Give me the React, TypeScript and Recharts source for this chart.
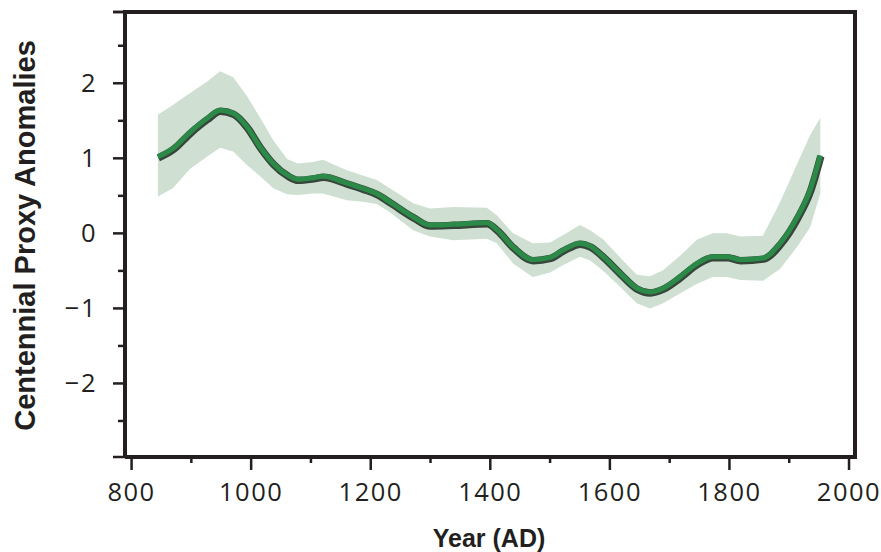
import React from 'react';
import { ComposedChart, Area, Line, XAxis, YAxis, ReferenceLine } from 'recharts';

// Reconstruction years (AD)
const years = [
  844, 869, 898, 926, 948, 970, 993, 1015, 1037, 1060, 1078, 1104, 1120, 1160, 1187,
  1210, 1232, 1271, 1299, 1338, 1394, 1411, 1438, 1471, 1500, 1522, 1550, 1567, 1589,
  1617, 1645, 1667, 1689, 1717, 1746, 1772, 1796, 1818, 1856, 1885, 1913, 1935, 1952,
];

// Mean centennial proxy anomaly
const anomaly = [
  1.02, 1.13, 1.35, 1.53, 1.64, 1.6, 1.42, 1.15, 0.93, 0.78, 0.72, 0.74, 0.76, 0.67, 0.6,
  0.53, 0.42, 0.22, 0.11, 0.12, 0.14, 0.05, -0.18, -0.35, -0.32, -0.22, -0.13, -0.17, -0.31,
  -0.53, -0.73, -0.78, -0.73, -0.58, -0.4, -0.31, -0.31, -0.35, -0.33, -0.13, 0.21, 0.58, 1.04,
];

// Uncertainty envelope
const lowerBound = [
  0.49, 0.6, 0.86, 1.02, 1.14, 1.09, 0.91, 0.76, 0.6, 0.52, 0.51, 0.53, 0.53, 0.44, 0.42,
  0.39, 0.28, 0.04, -0.04, -0.09, -0.07, -0.13, -0.4, -0.58, -0.52, -0.42, -0.31, -0.36, -0.5,
  -0.71, -0.93, -1.0, -0.93, -0.8, -0.67, -0.58, -0.58, -0.62, -0.63, -0.47, -0.18, 0.08, 0.53,
];
const upperBound = [
  1.58, 1.71, 1.87, 2.02, 2.16, 2.08, 1.83, 1.54, 1.24, 0.99, 0.93, 0.95, 0.98, 0.84, 0.77,
  0.71, 0.6, 0.4, 0.33, 0.35, 0.34, 0.24, 0.0, -0.13, -0.12, -0.02, 0.11, 0.04, -0.08,
  -0.32, -0.55, -0.57, -0.49, -0.3, -0.08, 0.0, 0.0, -0.04, -0.03, 0.42, 0.92, 1.31, 1.54,
];

const xMajorTicks = [800, 1000, 1200, 1400, 1600, 1800, 2000];
const xMinorTicks = [900, 1100, 1300, 1500, 1700, 1900];
const yMajorTicks = [-2, -1, 0, 1, 2];
const yMinorTicks = [-2.5, -1.5, -0.5, 0.5, 1.5, 2.5];

const xDomain: [number, number] = [789, 2010];
const yDomain: [number, number] = [-2.98, 2.95];

const data = years.map((year, i) => ({
  year,
  mean: anomaly[i],
  band: [lowerBound[i], upperBound[i]],
}));

const INK = '#231f20';
const TICK_FONT = '"Open Sans", "DejaVu Sans", sans-serif';
const TITLE_FONT = '"Liberation Sans", Arial, sans-serif';

const XTick = (props: any) => {
  const { x, y, payload } = props;
  const v = payload.value;
  const major = xMajorTicks.includes(v);
  return (
    <g>
      <line x1={x} x2={x} y1={y} y2={y + (major ? 13 : 6)} stroke={INK} strokeWidth={2.5} />
      {major && (
        <text
          x={x}
          y={y + 44}
          textAnchor="middle"
          fontFamily={TICK_FONT}
          fontSize={25.5}
          letterSpacing={1.5}
          fill={INK}
        >
          {v}
        </text>
      )}
    </g>
  );
};

const YTick = (props: any) => {
  const { x, y, payload } = props;
  const v = payload.value;
  const labelled = yMajorTicks.includes(v);
  const minor = yMinorTicks.includes(v);
  const len = minor ? 7 : 12;
  return (
    <g>
      <line x1={x - len} x2={x} y1={y} y2={y} stroke={INK} strokeWidth={2.5} />
      {labelled && (
        <text
          x={x - 28}
          y={y + 9}
          textAnchor="end"
          fontFamily={TICK_FONT}
          fontSize={25.5}
          letterSpacing={1.5}
          fill={INK}
        >
          {v < 0 ? `\u2212${Math.abs(v)}` : v}
        </text>
      )}
    </g>
  );
};

const yTicks = [yDomain[0], ...yMajorTicks, ...yMinorTicks, yDomain[1]].sort((a, b) => a - b);
const xTicks = [...xMajorTicks, ...xMinorTicks].sort((a, b) => a - b);

export default function App() {
  return (
    <div style={{ position: 'absolute', left: 0, top: 0, width: 881, height: 552, background: '#fff' }}>
      <ComposedChart
        width={881}
        height={552}
        data={data}
        margin={{ top: 12, right: 26, bottom: 0, left: 0 }}
      >
        <XAxis
          dataKey="year"
          type="number"
          domain={xDomain}
          ticks={xTicks}
          interval={0}
          height={95}
          tickSize={0}
          tickMargin={0}
          tickLine={false}
          axisLine={{ stroke: INK, strokeWidth: 4 }}
          tick={<XTick />}
          label={() => (
            <text
              x={489}
              y={547}
              textAnchor="middle"
              fontFamily={TITLE_FONT}
              fontWeight="bold"
              fontSize={25}
              fill={INK}
            >
              Year (AD)
            </text>
          )}
        />
        <YAxis
          type="number"
          domain={yDomain}
          ticks={yTicks}
          interval={0}
          width={125}
          tickSize={0}
          tickMargin={0}
          tickLine={false}
          axisLine={{ stroke: INK, strokeWidth: 4 }}
          tick={<YTick />}
          label={() => (
            <text
              x={35}
              y={235.5}
              transform="rotate(-90, 35, 235.5)"
              textAnchor="middle"
              fontFamily={TITLE_FONT}
              fontWeight="bold"
              fontSize={29}
              fill={INK}
            >
              Centennial Proxy Anomalies
            </text>
          )}
        />
        <Area
          dataKey="band"
          type="linear"
          stroke="none"
          fill="#cfdfd1"
          fillOpacity={1}
          isAnimationActive={false}
          activeDot={false}
        />
        <Line
          dataKey="mean"
          type="monotone"
          stroke="#1c2a20"
          strokeWidth={7.5}
          strokeOpacity={0.85}
          dot={false}
          activeDot={false}
          isAnimationActive={false}
          style={{ transform: 'translate(0.5px, 1px)' }}
        />
        <Line
          dataKey="mean"
          type="monotone"
          stroke="#2b8a48"
          strokeWidth={5}
          dot={false}
          activeDot={false}
          isAnimationActive={false}
        />
        <ReferenceLine y={yDomain[1]} stroke={INK} strokeWidth={4} strokeLinecap="square" />
        <ReferenceLine x={xDomain[1]} stroke={INK} strokeWidth={4} strokeLinecap="square" />
        <ReferenceLine
          y={yDomain[1]}
          stroke="none"
          label={() => (
            <line x1={113} x2={125} y1={12} y2={12} stroke={INK} strokeWidth={2.5} />
          )}
        />
      </ComposedChart>
    </div>
  );
}
